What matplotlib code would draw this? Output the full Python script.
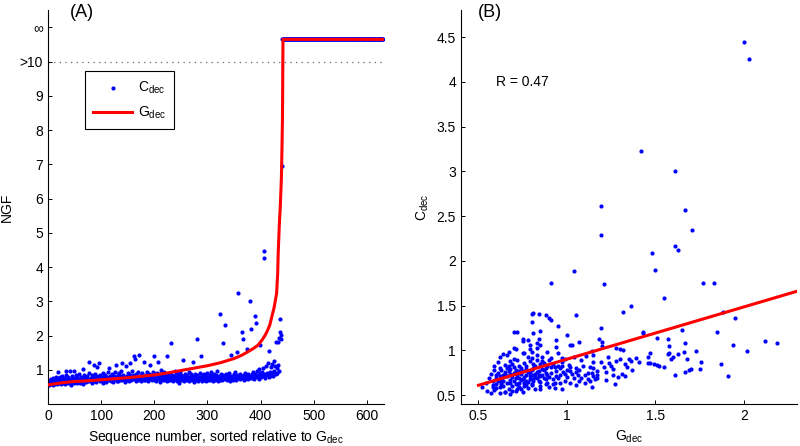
import numpy as np
import matplotlib
matplotlib.use("Agg")
from matplotlib import pyplot as plt

plt.rcParams["font.family"] = ["Liberation Sans", "DejaVu Sans"]
plt.rcParams["font.size"] = 10
plt.rcParams["mathtext.fontset"] = "custom"
plt.rcParams["mathtext.rm"] = "Liberation Sans"
plt.rcParams["mathtext.it"] = "Liberation Sans"

# ---- panel A: NGF per sequence, sorted by Gdec ----
n_sequences = 630
# Gdec (sorted); inf = above the >10 limit
gdec_idx = [0, 25, 50, 75, 100, 150, 200, 225, 250, 275, 300, 325, 350, 365, 375,
            385, 395, 403, 408, 412, 417, 421, 425, 428, 430, 432, 433, 435, 437,
            439, 440, 441, 442, 630]
gdec_val = [0.56, 0.62, 0.66, 0.68, 0.71, 0.77, 0.85, 0.91, 0.98, 1.05, 1.12, 1.21,
            1.33, 1.43, 1.52, 1.61, 1.72, 1.88, 2.00, 2.12, 2.30, 2.55, 2.80, 3.05,
            3.24, 3.80, 4.40, 5.20, 5.80, 6.60, 7.40, 8.30, np.inf, np.inf]

# Cdec for sequences 1..440 (finite); the rest are infinite
cdec_finite = [
    0.62, 0.55, 0.71, 0.66, 0.58, 0.74, 0.63, 0.69, 0.57, 0.77, 0.65, 0.60, 0.72, 0.68, 0.80, 0.59, 0.75, 0.64, 0.95, 0.70,
    0.61, 0.78, 0.67, 0.73, 0.58, 0.82, 0.66, 0.71, 0.63, 0.76, 0.69, 0.60, 0.85, 0.96, 0.65, 0.74, 0.62, 0.79, 0.68, 0.72,
    0.96, 0.64, 0.70, 0.57, 0.81, 0.67, 0.75, 0.61, 0.97, 0.73, 0.66, 0.84, 0.69, 0.62, 0.78, 0.71, 0.64, 0.88, 0.70, 0.74,
    0.63, 0.80, 0.67, 0.76, 1.02, 0.60, 0.72, 0.86, 0.69, 0.75, 0.64, 0.79, 0.70, 0.83, 0.66, 0.73, 0.91, 1.23, 0.68, 0.77,
    0.71, 0.85, 0.62, 0.74, 0.80, 1.14, 0.67, 0.76, 0.89, 0.70, 0.64, 0.82, 1.08, 0.73, 0.78, 1.21, 0.66, 0.84, 0.72, 0.79,
    0.68, 0.75, 0.92, 0.63, 0.81, 0.70, 0.77, 0.86, 0.65, 0.73, 0.80, 0.69, 0.95, 0.76, 1.06, 0.71, 0.83, 0.67, 0.78, 0.74,
    0.88, 0.70, 0.64, 0.81, 0.75, 0.93, 0.72, 1.15, 0.68, 0.79, 0.84, 0.66, 0.76, 0.90, 0.71, 0.82, 0.74, 0.97, 0.69, 1.19,
    0.77, 0.86, 0.72, 0.80, 0.65, 1.10, 0.75, 0.83, 0.70, 0.92, 0.78, 0.68, 0.87, 1.19, 0.74, 0.81, 0.71, 0.96, 0.76, 0.84,
    1.39, 0.73, 1.31, 0.79, 0.67, 0.88, 0.75, 0.82, 0.70, 0.94, 0.77, 1.44, 0.72, 0.85, 0.68, 0.80, 0.91, 0.74, 0.83, 0.71,
    1.24, 0.78, 0.69, 0.86, 0.75, 0.93, 0.72, 0.81, 0.66, 0.89, 0.77, 1.15, 0.73, 0.84, 0.70, 0.79, 0.95, 0.74, 1.41, 0.82,
    0.71, 0.87, 0.76, 0.68, 0.91, 0.79, 1.24, 0.73, 0.83, 0.65, 0.88, 0.77, 0.99, 0.72, 0.81, 0.69, 0.86, 0.75, 0.94, 0.70,
    0.84, 0.78, 0.67, 1.39, 0.73, 0.89, 0.80, 0.71, 0.92, 0.76, 1.78, 0.69, 0.85, 0.74, 0.82, 0.66, 0.79, 0.97, 0.72, 0.87,
    0.75, 0.81, 0.68, 0.90, 0.73, 0.84, 0.63, 0.78, 0.95, 0.71, 0.86, 0.76, 1.29, 0.70, 0.82, 0.67, 0.79, 0.88, 0.74, 0.81,
    0.69, 0.85, 0.77, 0.72, 0.93, 0.66, 0.80, 0.75, 0.87, 0.70, 0.83, 1.23, 0.73, 0.78, 0.64, 0.89, 0.76, 0.81, 0.71, 1.89,
    0.84, 0.74, 0.68, 0.79, 0.92, 0.72, 1.40, 0.77, 0.66, 0.86, 0.75, 0.81, 0.70, 0.88, 0.73, 0.79, 0.67, 0.84, 0.76, 0.91,
    0.71, 0.80, 0.74, 0.86, 0.69, 0.78, 0.93, 0.72, 0.83, 0.67, 0.77, 0.89, 0.75, 0.81, 0.70, 0.85, 0.73, 0.97, 0.79, 0.68,
    0.82, 0.76, 2.63, 0.71, 0.87, 0.74, 0.80, 0.69, 0.84, 1.78, 0.77, 0.72, 2.31, 0.88, 0.75, 0.81, 0.70, 0.86, 0.73, 0.79,
    0.92, 0.76, 0.68, 1.44, 0.83, 0.74, 0.80, 0.71, 0.87, 0.77, 0.95, 0.73, 0.82, 0.69, 1.51, 0.78, 3.25, 0.85, 0.75, 0.80,
    0.72, 0.88, 0.76, 2.11, 0.83, 1.90, 0.79, 0.70, 0.86, 0.74, 0.91, 0.81, 0.77, 1.60, 0.84, 0.73, 0.89, 0.78, 0.82, 3.01,
    0.75, 2.18, 0.87, 0.80, 0.93, 0.77, 0.84, 0.72, 2.58, 0.88, 2.36, 0.81, 0.96, 0.78, 0.85, 0.74, 1.02, 0.90, 1.73, 0.83,
    0.79, 0.94, 0.86, 1.05, 0.81, 4.46, 4.26, 0.89, 0.77, 1.12, 0.92, 0.84, 1.20, 0.87, 0.80, 1.56, 0.95, 0.83, 1.08, 0.90,
    0.86, 1.17, 0.93, 0.81, 1.25, 0.98, 1.10, 0.88, 1.82, 1.04, 0.91, 1.80, 1.15, 1.93, 0.96, 2.49, 2.10, 2.02, 1.90, 6.96,
]
cdec_left = cdec_finite + [np.inf] * (n_sequences - len(cdec_finite))

# ---- panel B: Cdec vs Gdec (finite values) ----
g_pts = [
    0.80, 0.81, 0.84, 0.80, 0.88, 0.90, 0.91, 1.05, 0.95, 0.70,
    0.72, 0.81, 0.84, 0.85, 0.75, 0.75, 0.78, 0.83, 0.85, 0.79,
    0.94, 1.00, 0.94, 1.02, 1.03, 1.07, 1.18, 0.70, 0.71, 0.67,
    0.66, 0.64, 0.75, 0.76, 0.79, 0.80, 0.83, 0.89, 0.91, 0.95,
    0.97, 1.04, 1.08, 1.11, 1.14, 1.15, 1.15, 0.62, 0.61, 0.65,
    0.59, 0.68, 0.70, 0.72, 0.78, 0.80, 0.83, 0.86, 0.85, 0.87,
    0.90, 0.92, 0.95, 0.97, 0.99, 1.01, 1.02, 1.05, 1.07, 1.09,
    1.13, 1.15, 1.17, 1.16, 1.17, 0.57, 0.59, 0.61, 0.63, 0.65,
    0.68, 0.70, 0.72, 0.74, 0.77, 0.80, 0.82, 0.84, 0.86, 0.88,
    0.91, 0.94, 0.96, 0.98, 1.00, 1.03, 1.05, 1.06, 1.08, 1.12,
    1.13, 1.15, 0.56, 0.58, 0.60, 0.62, 0.64, 0.66, 0.68, 0.71,
    0.73, 0.75, 0.77, 0.79, 0.81, 0.83, 0.85, 0.88, 0.89, 0.92,
    0.93, 0.95, 0.99, 1.00, 1.02, 1.05, 1.07, 1.10, 1.12, 1.14,
    0.58, 0.59, 0.62, 0.64, 0.67, 0.69, 0.71, 0.73, 0.75, 0.78,
    0.80, 0.82, 0.85, 0.85, 0.88, 0.90, 0.93, 0.96, 0.97, 0.52,
    0.54, 0.57, 0.62, 0.65, 0.65, 0.68, 0.72, 0.55, 0.58, 0.60,
    0.63, 0.68, 0.72, 0.76, 0.78, 0.80, 0.62, 0.67, 0.69, 0.73,
    0.76, 0.79, 0.81, 0.83, 0.86, 0.89, 0.93, 0.96, 0.97, 0.99,
    1.02, 1.04, 1.10, 1.14, 1.17,
    0.60, 0.63, 0.65, 0.66, 0.67, 0.69, 0.70, 0.71, 0.72, 0.73,
    0.74, 0.75, 0.76, 0.77, 0.78, 0.79, 0.80, 0.81, 0.82, 0.83,
    0.84, 0.86, 0.87, 0.88, 0.89, 0.61, 0.64, 0.66, 0.68, 0.70,
    0.71, 0.73, 0.74, 0.76, 0.77, 0.79, 0.81, 0.82, 0.84, 0.85,
    0.87, 0.90, 0.91, 0.92, 0.94, 0.60, 0.63, 0.69, 0.74, 0.77,
    1.42, 1.61, 1.19, 1.67, 1.71, 1.19, 1.61, 1.63, 1.48, 1.04,
    1.50, 0.91, 1.21, 1.77, 1.83, 1.55, 1.36, 1.32, 1.88, 1.95,
    1.43, 1.43, 1.65, 1.85, 1.51, 1.57, 2.12, 2.19, 1.94, 1.67,
    1.20, 1.58, 2.02, 1.28, 1.30, 1.32, 1.73, 1.66, 1.47, 1.57,
    1.63, 1.58, 1.46, 1.60, 1.59, 1.68, 1.76, 1.41, 1.46, 1.47,
    1.49, 1.51, 1.52, 1.55, 1.87, 1.70, 1.69, 1.75, 1.67, 1.61,
    1.91, 2.00, 2.03,
    1.19, 1.20, 1.23, 1.19, 1.22, 1.27, 1.30, 1.33, 1.35, 1.36,
    1.34, 1.37, 1.31, 1.33, 1.25, 1.26, 1.24, 1.28, 1.22, 1.39,
    1.29, 1.21, 1.26,
]
c_pts = [
    1.41, 1.42, 1.41, 1.32, 1.39, 1.36, 1.34, 1.40, 1.27, 1.21,
    1.20, 1.19, 1.13, 1.22, 1.13, 1.10, 1.12, 1.08, 1.06, 1.06,
    1.12, 1.17, 1.04, 1.06, 1.06, 1.09, 1.13, 1.03, 1.02, 0.98,
    0.95, 0.96, 0.97, 0.97, 1.01, 0.98, 1.03, 0.98, 0.92, 0.97,
    0.92, 0.93, 0.89, 0.94, 0.99, 0.95, 0.87, 0.93, 0.87, 0.84,
    0.82, 0.88, 0.90, 0.89, 0.93, 0.92, 0.95, 0.93, 0.85, 0.86,
    0.89, 0.85, 0.83, 0.87, 0.90, 0.84, 0.81, 0.80, 0.78, 0.83,
    0.81, 0.80, 0.77, 0.68, 0.69, 0.74, 0.78, 0.75, 0.78, 0.76,
    0.79, 0.75, 0.75, 0.80, 0.83, 0.78, 0.74, 0.77, 0.79, 0.75,
    0.81, 0.77, 0.72, 0.76, 0.78, 0.74, 0.76, 0.72, 0.69, 0.75,
    0.66, 0.71, 0.69, 0.66, 0.69, 0.71, 0.66, 0.71, 0.67, 0.69,
    0.64, 0.68, 0.72, 0.71, 0.66, 0.69, 0.71, 0.68, 0.63, 0.68,
    0.64, 0.69, 0.66, 0.70, 0.63, 0.61, 0.66, 0.63, 0.68, 0.59,
    0.61, 0.56, 0.59, 0.60, 0.57, 0.60, 0.55, 0.59, 0.54, 0.58,
    0.61, 0.57, 0.57, 0.60, 0.62, 0.59, 0.58, 0.63, 0.57, 0.59,
    0.63, 0.52, 0.52, 0.54, 0.53, 0.51, 0.57, 0.55, 0.59, 0.62,
    0.65, 0.63, 0.62, 0.64, 0.65, 0.62, 0.80, 0.82, 0.85, 0.83,
    0.86, 0.88, 0.85, 0.89, 0.88, 0.83, 0.81, 0.80, 0.83, 0.74,
    0.77, 0.69, 0.72, 0.75, 0.73,
    0.73, 0.68, 0.74, 0.64, 0.77, 0.70, 0.66, 0.78, 0.72, 0.69,
    0.74, 0.77, 0.70, 0.66, 0.76, 0.68, 0.72, 0.80, 0.70, 0.76,
    0.66, 0.73, 0.69, 0.80, 0.72, 0.66, 0.72, 0.80, 0.74, 0.81,
    0.62, 0.77, 0.67, 0.60, 0.79, 0.75, 0.68, 0.82, 0.73, 0.65,
    0.78, 0.70, 0.75, 0.62, 0.71, 0.58, 0.62, 0.55, 0.57, 0.61,
    3.23, 3.00, 2.61, 2.57, 2.34, 2.29, 2.17, 2.12, 2.09, 1.89,
    1.90, 1.75, 1.74, 1.75, 1.75, 1.58, 1.50, 1.43, 1.43, 1.36,
    1.20, 1.19, 1.23, 1.20, 1.14, 1.13, 1.10, 1.08, 1.06, 1.08,
    1.09, 1.05, 0.99, 1.03, 1.01, 1.00, 0.99, 0.98, 0.97, 0.96,
    0.96, 0.97, 0.93, 0.93, 0.90, 0.90, 0.87, 0.87, 0.86, 0.86,
    0.85, 0.84, 0.82, 0.81, 0.85, 0.79, 0.78, 0.79, 0.76, 0.72,
    0.71, 4.44, 4.25,
    1.25, 1.05, 0.93, 0.87, 0.67, 0.62, 0.90, 0.85, 0.90, 0.88,
    0.81, 0.78, 0.74, 0.71, 0.83, 0.79, 0.86, 0.88, 0.76, 0.92,
    0.70, 0.81, 0.73,
]
# fitted line read at the axis ends
fit_g = [0.50, 2.30]
fit_c = [0.61, 1.66]
r_value = 0.47

INF_Y = 10.65  # height where infinite values are drawn
dot_color = "#0000ff"
line_color = "#ff0000"

fig = plt.figure(figsize=(8, 4.46), dpi=100)
ax1 = fig.add_axes([0.06, 0.094, 0.42, 0.883])
ax2 = fig.add_axes([0.576, 0.094, 0.42, 0.883])

seq = np.arange(1, n_sequences + 1)
cl = np.array(cdec_left)
cl = np.where(np.isinf(cl), INF_Y, cl)
gv = np.array(gdec_val)
gv = np.where(np.isinf(gv), INF_Y, gv)

ax1.axhline(10, color="0.4", linestyle=(0, (1, 3.5)), linewidth=0.9, zorder=1)
ax1.scatter(seq, cl, s=9, color=dot_color, linewidths=0, label="C$_{\\rm dec}$", zorder=2)
ax1.plot(gdec_idx, gv, color=line_color, linewidth=2.2, label="G$_{\\rm dec}$", zorder=3)

ax1.set_xlim(0, 632)
ax1.set_ylim(0, 11.5)
ax1.set_xticks(range(0, 700, 100))
ax1.set_yticks(range(1, 12))
ax1.set_yticklabels([str(i) for i in range(1, 10)] + [">10", "\u221e"])
ax1.set_xlabel("Sequence number, sorted relative to G$_{\\rm dec}$")
ax1.set_ylabel("NGF")
leg = ax1.legend(loc="upper left", bbox_to_anchor=(0.11, 0.845), borderaxespad=0,
                 scatterpoints=1, fancybox=False, framealpha=1, edgecolor="black",
                 handlelength=2.8, handletextpad=0.4, labelspacing=0.6,
                 borderpad=0.6, fontsize=10)
leg.get_frame().set_linewidth(0.8)

ax2.scatter(g_pts, c_pts, s=9, color=dot_color, linewidths=0, zorder=2)
ax2.plot(fit_g, fit_c, color=line_color, linewidth=2.2, zorder=3)
ax2.set_xlim(0.4, 2.3)
ax2.set_ylim(0.4, 4.8)
ax2.set_xticks([0.5, 1, 1.5, 2])
ax2.set_xticklabels(["0.5", "1", "1.5", "2"])
yt = [0.5, 1, 1.5, 2, 2.5, 3, 3.5, 4, 4.5]
ax2.set_yticks(yt)
ax2.set_yticklabels(["%g" % v for v in yt])
ax2.set_xlabel("G$_{\\rm dec}$")
ax2.set_ylabel("C$_{\\rm dec}$")
ax2.text(0.6, 4.0, "R = %.2f" % r_value, ha="left", va="center")

for ax in (ax1, ax2):
    ax.spines["top"].set_visible(False)
    ax.spines["right"].set_visible(False)
    ax.tick_params(direction="in", length=3, width=0.7, labelsize=10)
    for s in ("left", "bottom"):
        ax.spines[s].set_linewidth(0.8)

fig.text(0.1025, 0.973, "(A)", ha="center", va="center", fontsize=13)
fig.text(0.613, 0.973, "(B)", ha="center", va="center", fontsize=13)

fig.savefig("out.png", dpi=100)
